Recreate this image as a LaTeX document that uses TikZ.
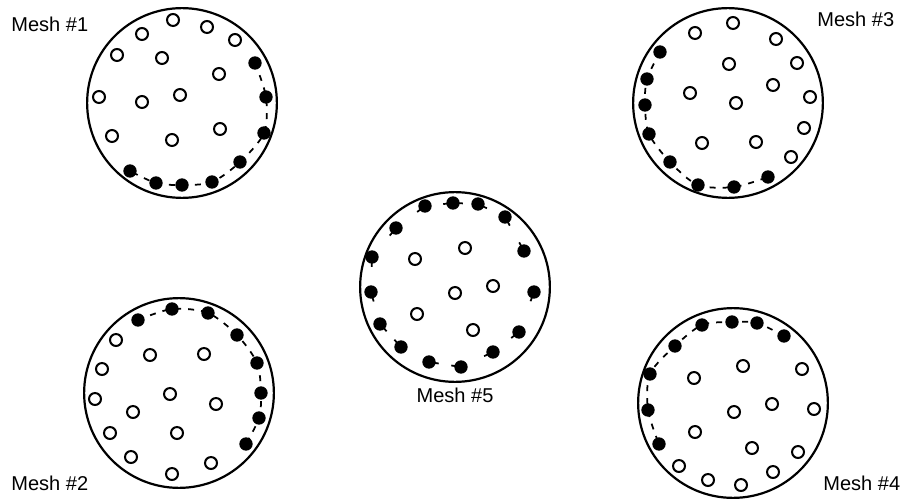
\documentclass[tikz,border=0pt]{standalone}
\usepackage{fontspec}
\setmainfont{Liberation Sans}
\usetikzlibrary{positioning}

\begin{document}
\begin{tikzpicture}[
  x=0.02cm, y=-0.02cm,
  mesh/.style={circle, draw, line width=1.25pt, minimum size=108pt, inner sep=0pt},
  opn/.style={circle, draw, line width=1.15pt, minimum size=6.8pt, inner sep=0pt},
  bnd/.style={circle, fill, minimum size=7.6pt, inner sep=0pt},
  ring/.style={line width=1pt, dash pattern=on 3.4pt off 4pt},
  tick/.style={line width=1pt, dash pattern=on 5.6pt off 100pt},
  lbl/.style={font=\fontsize{11.4}{13}\selectfont, inner sep=0pt}
]
  \useasboundingbox (0,0) rectangle (906,500);

  % mesh 1
  \node[mesh] (m1) at (182,103) {};
  \node[opn] (m1o1)  at (173,20) {};
  \node[opn] (m1o2)  at (207,27) {};
  \node[opn] (m1o3)  at (235,40) {};
  \node[opn] (m1o4)  at (142,34) {};
  \node[opn] (m1o5)  at (117,55) {};
  \node[opn] (m1o6)  at (162,58) {};
  \node[opn] (m1o7)  at (219,74) {};
  \node[opn] (m1o8)  at (99,97) {};
  \node[opn] (m1o9)  at (142,102) {};
  \node[opn] (m1o10) at (180,95) {};
  \node[opn] (m1o11) at (112,136) {};
  \node[opn] (m1o12) at (172,140) {};
  \node[opn] (m1o13) at (220,129) {};
  \node[bnd] (m1f1) at (255,63) {};
  \node[bnd] (m1f2) at (266,97) {};
  \node[bnd] (m1f3) at (264,133) {};
  \node[bnd] (m1f4) at (240,162) {};
  \node[bnd] (m1f5) at (212,182) {};
  \node[bnd] (m1f6) at (182,185) {};
  \node[bnd] (m1f7) at (156,183) {};
  \node[bnd] (m1f8) at (130,171) {};
  \draw[ring] plot[smooth] coordinates {(m1f1.center) (m1f2.center) (m1f3.center) (m1f4.center)
    (m1f5.center) (m1f6.center) (m1f7.center) (m1f8.center)};
  \node[lbl, anchor=base west] (l1) at (11,31.5) {Mesh \#1};

  % mesh 2
  \node[mesh] (m2) at (179,393) {};
  \node[opn] (m2o1)  at (116,340) {};
  \node[opn] (m2o2)  at (150,355) {};
  \node[opn] (m2o3)  at (204,354) {};
  \node[opn] (m2o4)  at (102,369) {};
  \node[opn] (m2o5)  at (170,394) {};
  \node[opn] (m2o6)  at (95,399) {};
  \node[opn] (m2o7)  at (216,404) {};
  \node[opn] (m2o8)  at (133,412) {};
  \node[opn] (m2o9)  at (110,433) {};
  \node[opn] (m2o10) at (177,433) {};
  \node[opn] (m2o11) at (131,457) {};
  \node[opn] (m2o12) at (211,463) {};
  \node[opn] (m2o13) at (172,474) {};
  \node[bnd] (m2f1) at (138,320) {};
  \node[bnd] (m2f2) at (172,309) {};
  \node[bnd] (m2f3) at (208,313) {};
  \node[bnd] (m2f4) at (237,335) {};
  \node[bnd] (m2f5) at (257,363) {};
  \node[bnd] (m2f6) at (261,393) {};
  \node[bnd] (m2f7) at (259,418) {};
  \node[bnd] (m2f8) at (246,444) {};
  \draw[ring] plot[smooth] coordinates {(m2f1.center) (m2f2.center) (m2f3.center) (m2f4.center)
    (m2f5.center) (m2f6.center) (m2f7.center) (m2f8.center)};
  \node[lbl, anchor=base west] (l2) at (11,490) {Mesh \#2};

  % mesh 3
  \node[mesh] (m3) at (728,103) {};
  \node[opn] (m3o1)  at (733,23) {};
  \node[opn] (m3o2)  at (695,33) {};
  \node[opn] (m3o3)  at (776,39) {};
  \node[opn] (m3o4)  at (797,63) {};
  \node[opn] (m3o5)  at (729,64) {};
  \node[opn] (m3o6)  at (773,85) {};
  \node[opn] (m3o7)  at (810,97) {};
  \node[opn] (m3o8)  at (690,93) {};
  \node[opn] (m3o9)  at (736,103) {};
  \node[opn] (m3o10) at (804,128) {};
  \node[opn] (m3o11) at (702,143) {};
  \node[opn] (m3o12) at (756,142) {};
  \node[opn] (m3o13) at (791,157) {};
  \node[bnd] (m3f1) at (660,52) {};
  \node[bnd] (m3f2) at (647,79) {};
  \node[bnd] (m3f3) at (645,105) {};
  \node[bnd] (m3f4) at (649,134) {};
  \node[bnd] (m3f5) at (670,162) {};
  \node[bnd] (m3f6) at (698,185) {};
  \node[bnd] (m3f7) at (734,187) {};
  \node[bnd] (m3f8) at (768,177) {};
  \draw[ring] plot[smooth] coordinates {(m3f1.center) (m3f2.center) (m3f3.center) (m3f4.center)
    (m3f5.center) (m3f6.center) (m3f7.center) (m3f8.center)};
  \node[lbl, anchor=base west] (l3) at (817,27) {Mesh \#3};

  % mesh 4
  \node[mesh] (m4) at (733,403) {};
  \node[opn] (m4o1)  at (743,366) {};
  \node[opn] (m4o2)  at (802,369) {};
  \node[opn] (m4o3)  at (694,378) {};
  \node[opn] (m4o4)  at (772,404) {};
  \node[opn] (m4o5)  at (814,409) {};
  \node[opn] (m4o6)  at (734,412) {};
  \node[opn] (m4o7)  at (695,432) {};
  \node[opn] (m4o8)  at (752,448) {};
  \node[opn] (m4o9)  at (798,452) {};
  \node[opn] (m4o10) at (679,466) {};
  \node[opn] (m4o11) at (773,472) {};
  \node[opn] (m4o12) at (708,480) {};
  \node[opn] (m4o13) at (741,485) {};
  \node[bnd] (m4f1) at (784,336) {};
  \node[bnd] (m4f2) at (757,323) {};
  \node[bnd] (m4f3) at (732,322) {};
  \node[bnd] (m4f4) at (702,325) {};
  \node[bnd] (m4f5) at (675,346) {};
  \node[bnd] (m4f6) at (650,374) {};
  \node[bnd] (m4f7) at (648,410) {};
  \node[bnd] (m4f8) at (659,444) {};
  \draw[ring] plot[smooth] coordinates {(m4f1.center) (m4f2.center) (m4f3.center) (m4f4.center)
    (m4f5.center) (m4f6.center) (m4f7.center) (m4f8.center)};
  \node[lbl, anchor=base west] (l4) at (823,490) {Mesh \#4};

  % mesh 5
  \node[mesh] (m5) at (455,287) {};
  \node[opn] (m5o1) at (465,248) {};
  \node[opn] (m5o2) at (415,259) {};
  \node[opn] (m5o3) at (493,286) {};
  \node[opn] (m5o4) at (455,293) {};
  \node[opn] (m5o5) at (417,314) {};
  \node[opn] (m5o6) at (473,330) {};
  \node[bnd] (m5f1)  at (425,206) {};
  \node[bnd] (m5f2)  at (453,203) {};
  \node[bnd] (m5f3)  at (478,204) {};
  \node[bnd] (m5f4)  at (505,217) {};
  \node[bnd] (m5f5)  at (524,251) {};
  \node[bnd] (m5f6)  at (534,292) {};
  \node[bnd] (m5f7)  at (519,332) {};
  \node[bnd] (m5f8)  at (493,352) {};
  \node[bnd] (m5f9)  at (461,367) {};
  \node[bnd] (m5f10) at (429,362) {};
  \node[bnd] (m5f11) at (401,347) {};
  \node[bnd] (m5f12) at (380,324) {};
  \node[bnd] (m5f13) at (371,292) {};
  \node[bnd] (m5f14) at (372,257) {};
  \node[bnd] (m5f15) at (396,228) {};
  \draw[tick] (m5f1.center) -- (m5f15.center);
  \draw[tick] (m5f2.center) -- (m5f1.center);
  \draw[tick] (m5f2.center) -- (m5f3.center);
  \draw[tick] (m5f3.center) -- (m5f4.center);
  \draw[tick] (m5f4.center) -- (m5f5.center);
  \draw[tick] (m5f5.center) -- (m5f4.center);
  \draw[tick] (m5f6.center) -- (m5f7.center);
  \draw[tick] (m5f7.center) -- (m5f8.center);
  \draw[tick] (m5f8.center) -- (m5f9.center);
  \draw[tick] (m5f9.center) -- (m5f10.center);
  \draw[tick] (m5f10.center) -- (m5f9.center);
  \draw[tick] (m5f11.center) -- (m5f12.center);
  \draw[tick] (m5f12.center) -- (m5f11.center);
  \draw[tick] (m5f13.center) -- (m5f12.center);
  \draw[tick] (m5f14.center) -- (m5f13.center);
  \draw[tick] (m5f15.center) -- (m5f14.center);
  \node[lbl, below=2.5pt of m5] (l5) {Mesh \#5};
\end{tikzpicture}
\end{document}
